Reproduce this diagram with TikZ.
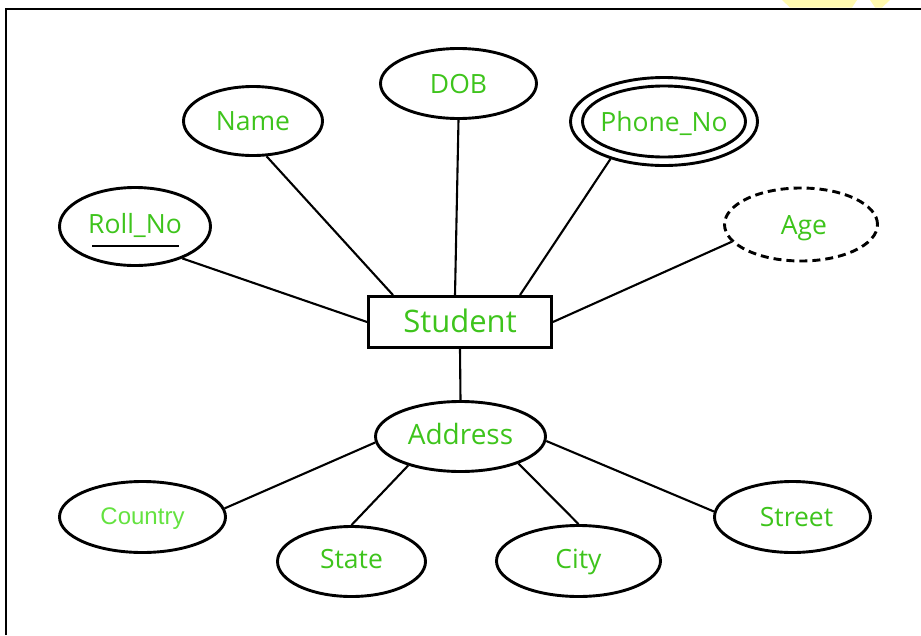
\documentclass[tikz,border=0pt]{standalone}
\usepackage{fontspec}
\setmainfont{Open Sans}
\newfontfamily\ctryfont{Liberation Sans}
\usetikzlibrary{shapes.geometric}
\definecolor{txtgreen}{RGB}{62,196,28}
\definecolor{ctrygreen}{RGB}{100,226,64}
\definecolor{hlyellow}{RGB}{255,250,175}
\begin{document}
\begin{tikzpicture}[x=1pt,y=-1pt,
  attr/.style={ellipse, draw, line width=2.9pt, inner sep=0pt,
    text height=19pt, text depth=0pt, text=txtgreen,
    font=\fontsize{26.5}{30}\selectfont},
  entitybox/.style={rectangle, draw, line width=2.9pt, inner sep=0pt,
    minimum width=183pt, minimum height=51pt,
    text height=21pt, text depth=0pt, text=txtgreen,
    font=\fontsize{31}{34}\selectfont},
  conn/.style={line width=2.1pt},
  framestyle/.style={line width=2pt}]
\useasboundingbox (0,0) rectangle (921,635);
% yellow marks at top edge
\fill[hlyellow] (782,0) -- (857,0) -- (852,7.5) -- (790,7.5) -- cycle;
\fill[hlyellow] (870,0) -- (890,0) -- (882,7.5) -- (875,7.5) -- cycle;
% frame
\draw[framestyle] (6,635) -- (6,8.5) -- (921,8.5);

% entity
\node[entitybox] (student) at (460,322) {\makebox[0pt]{Student}};

% attributes
\node[attr, minimum width=151pt, minimum height=78pt] (roll) at (135,226.5) {\makebox[0pt]{\raisebox{3pt}{Roll\_No}}};
\node[attr, minimum width=139pt, minimum height=69pt] (name) at (253,121) {\makebox[0pt]{Name}};
\node[attr, minimum width=156pt, minimum height=70pt] (dob) at (458.5,83.5) {\makebox[0pt]{DOB}};
\node[attr, minimum width=187pt, minimum height=88pt] (phone) at (664,121.5) {};
\node[attr, minimum width=163pt, minimum height=71pt] (phonein) at (phone.center) {\makebox[0pt]{Phone\_No}};
\node[attr, dashed, dash pattern=on 8pt off 5pt, minimum width=153pt, minimum height=73pt] (age) at (801,224.5) {\makebox[0pt]{\hspace*{6pt}Age}};
\node[attr, minimum width=170pt, minimum height=70pt, font=\fontsize{28}{32}\selectfont] (address) at (460.5,436.5) {\makebox[0pt]{\raisebox{1.5pt}{Address}}};
\node[attr, minimum width=166pt, minimum height=71pt, text height=17pt, text=ctrygreen,
  font=\ctryfont\fontsize{24}{28}\selectfont] (country) at (142.5,517) {\makebox[0pt]{\raisebox{1.5pt}{Country}}};
\node[attr, minimum width=148pt, minimum height=70pt] (state) at (351.5,561.5) {\makebox[0pt]{\raisebox{2.5pt}{State}}};
\node[attr, minimum width=164pt, minimum height=71pt] (city) at (578.5,561) {\makebox[0pt]{\raisebox{2.5pt}{City}}};
\node[attr, minimum width=156pt, minimum height=71pt] (street) at (792.5,517) {\makebox[0pt]{\hspace*{8pt}Street}};

% key underline
\draw[line width=2pt] ([xshift=-43pt,yshift=-19.5pt]roll.center) -- ([xshift=44pt,yshift=-19.5pt]roll.center);

% connectors
\draw[conn] (roll.326) -- (student.west);
\draw[conn] (name.291) -- ([xshift=-67pt]student.north);
\draw[conn] (dob.south) -- ([xshift=-5pt]student.north);
\draw[conn] (phone.215) -- ([xshift=60pt]student.north);
\draw[conn] (age.194) -- (student.east);
\draw[conn] (student.south) -- (address.north);
\draw[conn] (address.184) -- (country.6);
\draw[conn] (address.209) -- (state.north);
\draw[conn] (address.335) -- (city.north);
\draw[conn] (address.357) -- (street.176);
\end{tikzpicture}
\end{document}
